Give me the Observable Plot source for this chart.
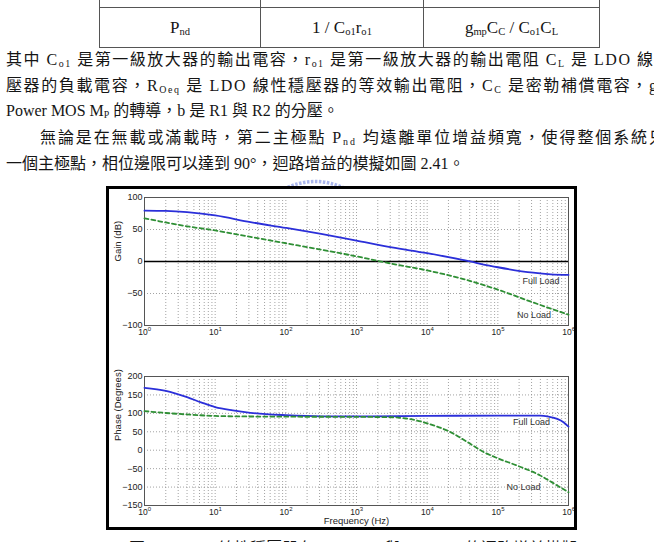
<!DOCTYPE html>
<html>
<head>
<meta charset="utf-8">
<script src="https://cdn.jsdelivr.net/npm/d3@7"></script>
<script src="https://cdn.jsdelivr.net/npm/@observablehq/plot@0.6"></script>
<style>
  html, body { margin: 0; padding: 0; background: #fff; }
  body { width: 654px; height: 542px; position: relative; overflow: hidden; }
  .tx { position: absolute; white-space: nowrap; font-family: "Liberation Serif", "Noto Sans CJK TC", serif;
        font-size: 16px; line-height: 20px; color: #151515; }
  .tx sub, #tbl sub { font-size: 0.62em; vertical-align: -0.22em; line-height: 0; }
  #tbl { position: absolute; left: 99px; top: -30px; border-collapse: collapse; table-layout: fixed;
         font-family: "Liberation Serif", serif; font-size: 17px; color: #151515; }
  #tbl td { border: 1.4px solid #555; padding: 0; text-align: center; }
  #fig { position: absolute; left: 106px; top: 186px; width: 471px; height: 344px;
         border: 3px solid #000; box-sizing: border-box; background: #fff; }
  #fig svg { position: absolute; left: 0; }
  #mark { position: absolute; left: 280px; top: 176px; }
</style>
</head>
<body>

<table id="tbl">
  <colgroup><col style="width:161px"><col style="width:163px"><col style="width:176px"></colgroup>
  <tr style="height:37px"><td></td><td></td><td></td></tr>
  <tr style="height:40px">
    <td>P<sub>nd</sub></td>
    <td>1 / C<sub>o1</sub>r<sub>o1</sub></td>
    <td>g<sub>mp</sub>C<sub>C</sub> / C<sub>o1</sub>C<sub>L</sub></td>
  </tr>
</table>

<div class="tx j" data-w="647" style="left:6px;top:50px">其中 C<sub>o1</sub> 是第一級放大器的輸出電容，r<sub>o1</sub> 是第一級放大器的輸出電阻 C<sub>L</sub> 是 LDO 線</div>
<div class="tx j" data-w="651" style="left:6px;top:76px">壓器的負載電容，R<sub>Oeq</sub> 是 LDO 線性穩壓器的等效輸出電阻，C<sub>C</sub> 是密勒補償電容，g</div>
<div class="tx" style="left:6px;top:101px">Power MOS M<sub>P</sub> 的轉導，b 是 R1 與 R2 的分壓。</div>
<div class="tx j" data-w="625" style="left:40px;top:128px">無論是在無載或滿載時，第二主極點 P<sub>nd</sub> 均遠離單位增益頻寬，使得整個系統只</div>
<div class="tx" style="left:6px;top:154px">一個主極點，相位邊限可以達到 90°，迴路增益的模擬如圖 2.41。</div>

<svg id="mark" width="70" height="14">
  <path d="M4,13 Q35,-2 66,13" fill="none" stroke="#8e9ee6" stroke-width="3.5" stroke-dasharray="2.5,1.5" opacity="0.75"/>
</svg>

<div id="fig"></div>

<div class="tx" style="left:129px;top:539px">圖 2.41 LDO 線性穩壓器在 Full Load 與 No Load 的迴路增益模擬</div>

<script>
// Loop gain of the LDO regulator, full load vs. no load
const seriesNames = ["Full Load", "No Load"];

const freqGainFull = [1, 2, 4, 10, 31.6, 100, 316, 1000, 3160, 10000, 31600, 100000, 316000, 562000, 1000000];
const gainFull     = [79.5, 79, 77, 72, 61.5, 52.5, 43, 32.5, 22, 13, 2.5, -9, -17.5, -20, -21];

const freqGainNoLoad = [1, 2, 4, 10, 31.6, 100, 316, 1000, 3160, 10000, 31600, 100000, 316000, 1000000];
const gainNoLoad     = [67.5, 61, 55, 48.5, 38.5, 28.5, 18.5, 8, -3.5, -14, -27, -44, -64, -83];

const freqPhaseFull = [1, 2, 4, 6.3, 10, 17.8, 31.6, 100, 316, 1000, 10000, 100000, 398000, 525000, 692000, 850000, 1000000];
const phaseFull     = [169, 161, 144, 130, 117, 108, 101.5, 95, 92, 92, 93, 94, 94, 91, 85, 76, 64];

const freqPhaseNoLoad = [1, 2, 4, 10, 31.6, 100, 1000, 3160, 5000, 7240, 10000, 21400, 37200, 63100, 100000, 186000, 398000, 617000, 1000000];
const phaseNoLoad     = [106, 101, 97, 93, 91.5, 91, 90.5, 89.5, 86, 80.5, 73, 49, 22, -5, -22, -41.5, -68.5, -90, -114];

const gainTicks  = [-100, -50, 0, 50, 100];
const phaseTicks = [-150, -100, -50, 0, 50, 100, 150, 200];
const decadeExponents = [0, 1, 2, 3, 4, 5, 6];

const toRows = (freqs, values, name) => freqs.map((f, i) => ({f, v: values[i], name}));

// dotted grid at every decade subdivision
const minorX = [];
for (let d = 0; d < 6; d++) for (let k = 1; k < 10; k++) minorX.push(k * 10 ** d);
minorX.push(1e6);

const font = "'Liberation Sans', Arial, sans-serif";
const blue = "#2b2fd9";
const green = "#2f8f35";

function panel({height, marginTop, marginBottom, yDomain, yTicks, yLabel, full, none, labelFull, labelNone, zero, xLabel}) {
  const gridStyle = {stroke: "#8c8c8c", strokeWidth: 0.8, strokeDasharray: "1,2"};
  return Plot.plot({
    width: 465,
    height,
    marginLeft: 35,
    marginRight: 6,
    marginTop,
    marginBottom,
    style: {fontFamily: font, color: "#222", background: "transparent"},
    x: {type: "log", domain: [1, 1e6], axis: null},
    y: {domain: yDomain, axis: null},
    marks: [
      Plot.ruleX(minorX, gridStyle),
      Plot.ruleY(yTicks, gridStyle),
      Plot.frame({stroke: "#555", strokeWidth: 1}),
      zero ? Plot.ruleY([0], {stroke: "#000", strokeWidth: 1.6}) : null,
      Plot.line(full, {x: "f", y: "v", stroke: blue, strokeWidth: 1.8, curve: "monotone-x"}),
      Plot.line(none, {x: "f", y: "v", stroke: green, strokeWidth: 1.8, strokeDasharray: "4,3", curve: "monotone-x"}),
      Plot.text([seriesNames[0]], {x: labelFull[0], y: labelFull[1], fontSize: 9, fill: "#333"}),
      Plot.text([seriesNames[1]], {x: labelNone[0], y: labelNone[1], fontSize: 9, fill: "#333"}),
      Plot.axisY(yTicks, {tickSize: 0, tickPadding: 2, fontSize: 9, label: null, tickFormat: d3.format("")}),
      Plot.text(decadeExponents, {x: (d) => 10 ** d, text: () => "10", frameAnchor: "bottom", dy: 9, dx: -1.5, fontSize: 8.5}),
      Plot.text(decadeExponents, {x: (d) => 10 ** d, text: (d) => String(d), frameAnchor: "bottom", dy: 5, dx: 5, fontSize: 6}),
      Plot.text([yLabel], {frameAnchor: "left", dx: -27, rotate: -90, fontSize: 9.5}),
      xLabel ? Plot.text([xLabel], {frameAnchor: "bottom", dy: 18.5, fontSize: 9.5}) : null
    ]
  });
}

const fig = document.getElementById("fig");

const gain = panel({
  height: 158, marginTop: 8, marginBottom: 22,
  yDomain: [-100, 100], yTicks: gainTicks, yLabel: "Gain (dB)",
  full: toRows(freqGainFull, gainFull, seriesNames[0]),
  none: toRows(freqGainNoLoad, gainNoLoad, seriesNames[1]),
  labelFull: [4.07e5, -31], labelNone: [3.24e5, -84.5], zero: true
});
gain.style.top = "0px";
fig.appendChild(gain);

const phase = panel({
  height: 180, marginTop: 29, marginBottom: 22,
  yDomain: [-150, 200], yTicks: phaseTicks, yLabel: "Phase (Degrees)",
  full: toRows(freqPhaseFull, phaseFull, seriesNames[0]),
  none: toRows(freqPhaseNoLoad, phaseNoLoad, seriesNames[1]),
  labelFull: [3.0e5, 75], labelNone: [2.3e5, -101], zero: false,
  xLabel: "Frequency (Hz)"
});
phase.style.top = "158px";
fig.appendChild(phase);

// spread the characters of full-width paragraph lines to their measured width
document.querySelectorAll(".j").forEach((el) => {
  const target = +el.dataset.w;
  const natural = el.getBoundingClientRect().width;
  const n = el.textContent.length;
  el.style.letterSpacing = ((target - natural) / (n - 1)) + "px";
});
</script>
</body>
</html>
